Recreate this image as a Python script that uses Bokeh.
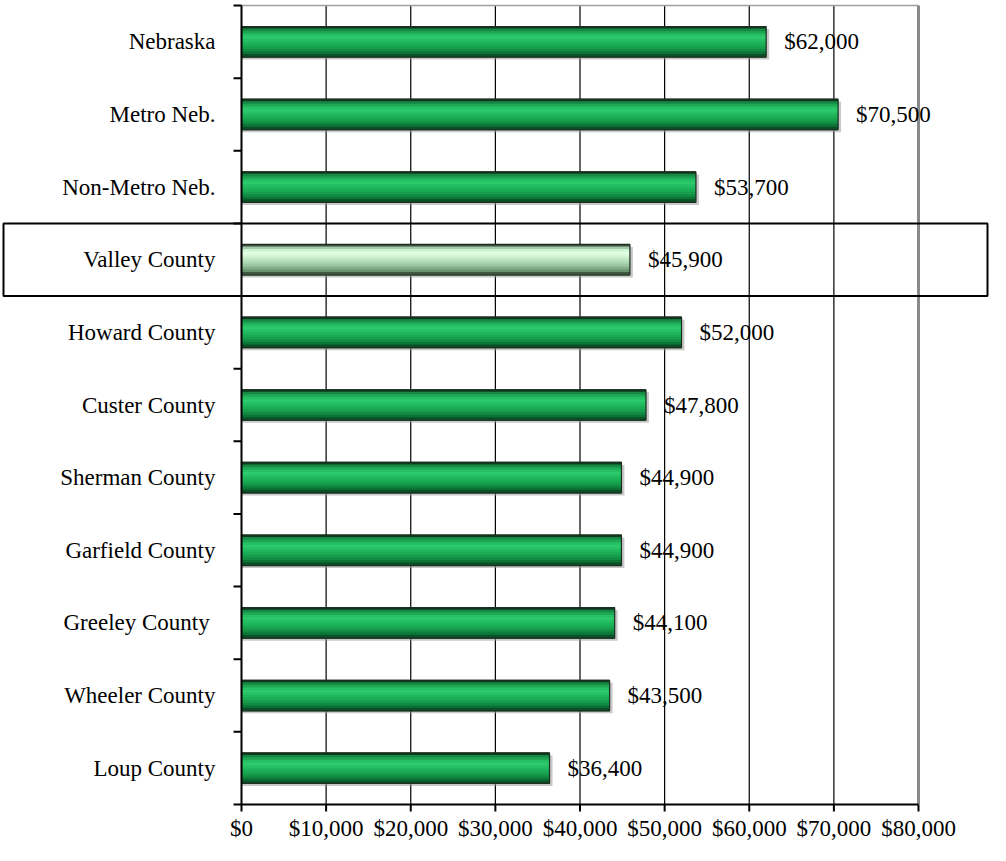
import math
from bokeh.plotting import figure
from bokeh.models import ColumnDataSource, LabelSet, BoxAnnotation, Range1d
from bokeh.core.properties import value
from bokeh.embed import file_html
from bokeh.resources import INLINE

# ---- data ----
categories = ["Nebraska", "Metro Neb.", "Non-Metro Neb.", "Valley County",
              "Howard County", "Custer County", "Sherman County",
              "Garfield County", "Greeley  County", "Wheeler County",
              "Loup County"]
incomes = [62000, 70500, 53700, 45900, 52000, 47800, 44900, 44900, 44100,
           43500, 36400]
highlight = "Valley County"
x_ticks = [0, 10000, 20000, 30000, 40000, 50000, 60000, 70000, 80000]
x_tick_labels = ["$0", "$10,000", "$20,000", "$30,000", "$40,000",
                 "$50,000", "$60,000", "$70,000", "$80,000"]

FONT = "Liberation Serif"
FS = "23px"
n = len(categories)
pos = [n - 0.5 - i for i in range(n)]
bounds = list(range(n + 1))
labels = ["${:,}".format(v) for v in incomes]

# ---- layout (pixel geometry of the plotting area inside the canvas) ----
W, H = 990, 845
left_px, right_px, top_px, bottom_px = 241, 918, 5, 804
xmin, xmax = x_ticks[0], x_ticks[-1]
kx = (right_px - left_px) / (xmax - xmin)
ky = (bottom_px - top_px) / n
x_start = xmin - left_px / kx
x_end = xmax + (W - right_px) / kx
y_start = -(H - bottom_px) / ky
y_end = n + top_px / ky

p = figure(width=W, height=H, output_backend="svg", toolbar_location=None,
           x_range=Range1d(x_start, x_end), y_range=Range1d(y_start, y_end),
           x_axis_location=None, y_axis_location=None, min_border=0)
p.grid.visible = False
p.outline_line_color = None
p.background_fill_color = "white"
p.border_fill_color = "white"

# vertical grid lines
inner = x_ticks[1:-1]
p.segment(x0=inner, y0=[0] * len(inner), x1=inner, y1=[n] * len(inner),
          line_color="black", line_width=1.2)
# plot-area border (top and right, grey)
p.segment(x0=[xmin], y0=[n], x1=[xmax], y1=[n], line_color="#a0a0a0",
          line_width=1.5)
p.segment(x0=[xmax], y0=[0], x1=[xmax], y1=[n], line_color="#8a8a8a",
          line_width=3)

# bar gradient stripes (top -> bottom)
green_stripes = ["#0e3a1d", "#168a44", "#1ea854", "#27bf64", "#2dca6b",
                 "#26c064", "#1fb55c", "#1aab55", "#169e4d", "#128c43",
                 "#0d7437", "#0a5027"]
light_stripes = ["#404e42", "#a2cca9", "#ccf2d0", "#e2ffe4", "#d8f8da",
                 "#c8ecca", "#b8e0bc", "#a8d4ae", "#98c49e", "#84ae8a",
                 "#6a9470", "#40583f"]
bar_h = 0.42
ns = len(green_stripes)
sh = bar_h / ns

normal_idx = [i for i, c in enumerate(categories) if c != highlight]
hl_idx = [i for i, c in enumerate(categories) if c == highlight]

# shadow
p.hbar(y=[y - 0.035 for y in pos], right=[v + 350 for v in incomes], left=0,
       height=bar_h, fill_color="#9a9a9a", fill_alpha=0.55, line_color=None)

for k in range(ns):
    yc = bar_h / 2 - k * sh - sh / 2
    p.hbar(y=[pos[i] + yc for i in normal_idx],
           right=[incomes[i] for i in normal_idx], left=0,
           height=sh * 1.4, fill_color=green_stripes[k], line_color=None)
    p.hbar(y=[pos[i] + yc for i in hl_idx],
           right=[incomes[i] for i in hl_idx], left=0,
           height=sh * 1.4, fill_color=light_stripes[k], line_color=None)

# bar outlines
p.hbar(y=pos, right=incomes, left=0, height=bar_h, fill_alpha=0,
       line_color="#1c2e20", line_width=1.2)

# axes lines
p.segment(x0=[0], y0=[0], x1=[0], y1=[n], line_color="black", line_width=2)
p.segment(x0=[xmin], y0=[0], x1=[xmax], y1=[0], line_color="black",
          line_width=2)
# y ticks at category boundaries (outward, left)
p.ray(x=[0] * len(bounds), y=bounds, length=8, length_units="screen",
      angle=math.pi, line_color="black", line_width=2)
# x ticks (outward, down)
p.ray(x=x_ticks, y=[0] * len(x_ticks), length=7, length_units="screen",
      angle=-math.pi / 2, line_color="black", line_width=2)

# category labels
p.text(x=[0] * n, y=pos, text=categories, x_offset=-26,
       text_align="right", text_baseline="middle",
       text_font=value(FONT), text_font_size=value(FS), text_color="black")
# x tick labels
p.text(x=x_ticks, y=[0] * len(x_ticks), text=x_tick_labels, y_offset=24,
       text_align="center", text_baseline="middle",
       text_font=value(FONT), text_font_size=value(FS), text_color="black")

# value labels
src = ColumnDataSource(dict(x=incomes, y=pos, t=labels))
p.add_layout(LabelSet(x="x", y="y", text="t", source=src, x_offset=18,
                      text_baseline="middle", text_align="left",
                      text_font=value(FONT), text_font_size=FS,
                      text_color="black"))

# highlight box around Valley County row
hi = categories.index(highlight)
p.add_layout(BoxAnnotation(left=3, left_units="canvas", right=987,
                           right_units="canvas",
                           top=pos[hi] + 0.5, bottom=pos[hi] - 0.5,
                           fill_alpha=0, line_color="black", line_alpha=1.0,
                           line_width=2, level="overlay"))

open("out.html", "w").write(file_html(p, INLINE))
